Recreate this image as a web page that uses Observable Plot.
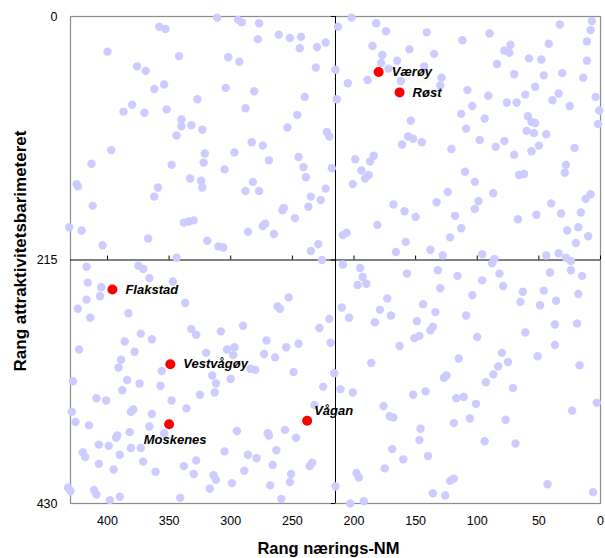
<!DOCTYPE html>
<html>
<head>
<meta charset="utf-8">
<script src="https://cdn.jsdelivr.net/npm/d3@7"></script>
<script src="https://cdn.jsdelivr.net/npm/@observablehq/plot@0.6"></script>
<style>
  html, body { margin: 0; padding: 0; background: #fff; }
</style>
</head>
<body>
<div id="chart"></div>
<script>
// Background municipalities: [rank nærings-NM, rank attraktivitetsbarometer]
const bgPoints = [
  [358,9],[353,11],[400,31],[342,35],[376,44],[369,48],[362,64],[354,60],[327,73],[380,78],[387,84],[370,85],[352,82],[340,91],[340,97],[332,96],[323,100],[344,105],[397,118],[413,130],[348,131],[321,121],[322,129],[425,148],[424,150],[333,143],[324,145],[323,151],[359,151],[362,159],[412,167],[338,182],[334,181],[330,180],[431,186],[421,189],[367,196],[404,202],[344,213],
  [311,1],[294,3],[291,5],[277,6],[261,16],[252,19],[243,18],[278,20],[244,28],[230,27],[223,23],[302,36],[293,40],[231,45],[215,47],[304,63],[281,66],[240,71],[288,81],[246,87],[254,98],[222,102],[220,106],[283,111],[274,114],[297,120],[269,127],[305,135],[245,124],[241,133],[218,134],[239,142],[282,146],[288,154],[277,154],[223,152],[235,159],[227,162],[237,168],[257,169],[258,171],[248,178],[286,190],[274,185],[272,183],[265,192],[319,198],[310,203],[306,204],[229,201],[235,207],[226,215],
  [213,9],[202,1],[182,6],[174,13],[141,14],[112,21],[185,26],[177,34],[155,29],[135,33],[165,39],[178,41],[172,46],[143,44],[205,59],[189,56],[162,57],[129,54],[130,61],[214,73],[108,65],[113,86],[109,99],[154,92],[156,106],[152,108],[161,113],[145,111],[121,117],[184,123],[187,128],[199,126],[194,136],[191,143],[188,140],[201,148],[110,137],[124,155],[133,164],[168,166],[159,172],[150,177],[118,176],[181,184],[113,187],[209,193],[206,191],[122,195],[158,199],[166,208],[138,206],[128,211],
  [90,15],[33,7],[7,4],[8,12],[11,22],[42,24],[73,25],[78,30],[74,32],[58,37],[48,38],[11,39],[84,42],[70,51],[46,52],[31,50],[14,54],[53,62],[91,70],[61,69],[76,76],[68,76],[34,68],[39,74],[25,79],[4,71],[1,83],[2,95],[104,79],[94,90],[59,88],[56,93],[53,94],[60,101],[54,103],[44,104],[98,109],[85,115],[78,110],[70,122],[56,119],[50,114],[21,116],[28,131],[29,138],[66,140],[62,139],[102,146],[87,156],[99,163],[102,170],[8,157],[12,161],[40,165],[16,173],[32,174],[52,175],[67,179],[18,186],[27,189],[10,194],[20,200],[96,210],[86,214],[44,211],[34,209],[28,213],[24,216],
  [417,221],[375,220],[371,223],[366,231],[416,235],[405,239],[406,247],[417,250],[347,234],[424,258],[414,266],[383,262],[337,253],[332,276],[328,281],[373,280],[364,285],[386,287],[378,296],[423,294],[389,303],[391,310],[356,313],[428,322],[384,321],[374,324],[357,326],[388,330],[409,337],[401,339],[348,339],[325,334],[336,346],[429,349],[426,358],[381,349],[379,347],[364,351],[415,361],[366,362],[382,367],[354,368],[393,372],[392,370],[407,378],[399,379],[381,381],[373,381],[420,385],[418,389],[390,387],[407,395],[395,400],[371,393],[361,402],[338,397],[330,404],[328,392],[432,416],[430,419],[411,418],[409,422],[398,427],[390,424],[341,425],
  [253,248],[262,256],[260,258],[220,267],[228,275],[290,273],[308,278],[271,286],[245,289],[255,292],[219,288],[303,294],[297,292],[298,299],[320,297],[273,298],[264,301],[284,311],[280,312],[249,314],[216,315],[315,317],[312,324],[300,320],[313,332],[225,327],[232,343],[295,366],[270,368],[269,370],[256,365],[247,372],[305,384],[286,387],[279,390],[263,383],[266,396],[236,397],[234,394],[289,401],[251,404],[252,411],[314,405],[312,409],[299,412],[268,414],[317,417],[259,426],[215,415],
  [209,219],[195,222],[193,230],[197,237],[190,236],[157,227],[132,224],[116,229],[130,240],[173,249],[144,254],[210,257],[204,266],[179,259],[170,264],[134,261],[109,264],[183,270],[149,269],[138,277],[136,274],[151,284],[147,282],[163,291],[186,306],[115,302],[127,319],[125,317],[211,329],[201,332],[152,334],[142,331],[117,337],[111,336],[176,344],[171,353],[168,354],[119,359],[146,364],[147,374],[169,382],[160,391],[140,388],[175,399],[198,403],[196,407],[119,408],[122,410],[136,421],[126,423],[203,430],[192,428],
  [88,218],[82,227],[96,233],[79,238],[104,246],[63,243],[65,252],[46,242],[49,255],[36,251],[24,224],[41,226],[15,229],[18,245],[37,272],[19,271],[61,279],[100,283],[37,290],[80,297],[51,300],[75,305],[83,309],[87,316],[93,323],[17,308],[71,328],[101,342],[106,355],[77,356],[23,348],[3,341],[94,375],[69,377],[43,413],[6,420]
];

// Highlighted municipalities
const hlNames = ["Værøy", "Røst", "Flakstad", "Vestvågøy", "Moskenes", "Vågan"];
const hlX = [180, 163, 396, 349, 350, 238];
const hlY = [49, 67, 241, 307, 360, 357];

const xTicks = [400, 350, 300, 250, 200, 150, 100, 50, 0];
const yTicks = [0, 215, 430];
const midValue = 215;
const xTitle = "Rang nærings-NM";
const yTitle = "Rang attraktivitetsbarimeteret";

const bg = bgPoints.map(([x, y]) => ({x, y}));
const hl = hlNames.map((name, i) => ({name, x: hlX[i], y: hlY[i]}));

const rightLabels = hl.filter(d => d.name !== "Moskenes" && d.name !== "Vågan");
const belowLabels = hl.filter(d => d.name === "Moskenes");
const aboveLabels = hl.filter(d => d.name === "Vågan");

const font = "'Liberation Sans', Arial, Helvetica, sans-serif";
const labelStyle = {fontSize: 13, fontWeight: "bold", fontStyle: "italic", fill: "#000"};

const chart = Plot.plot({
  width: 605,
  height: 558,
  marginLeft: 70,
  marginRight: 5,
  marginTop: 16,
  marginBottom: 55,
  style: {fontFamily: font, fontSize: "12.5px", color: "#000", background: "#fff"},
  x: {domain: [430, 0], axis: null},
  y: {domain: [0, 430], reverse: true, axis: null},
  marks: [
    Plot.frame({stroke: "#8c8c8c", strokeWidth: 1.2}),
    Plot.ruleX([midValue], {stroke: "#000", strokeWidth: 1}),
    Plot.ruleY([midValue], {stroke: "#000", strokeWidth: 1}),
    Plot.ruleX(xTicks, {x: d => d, y1: midValue, y2: midValue - 3.5, stroke: "#000"}),
    Plot.ruleY(yTicks, {y: d => d, x1: midValue, x2: midValue + 3.2, stroke: "#000"}),
    Plot.axisX(xTicks, {anchor: "bottom", tickSize: 0, tickPadding: 13, fontSize: 12.5, label: null}),
    Plot.axisY(yTicks, {anchor: "left", tickSize: 0, tickPadding: 13, fontSize: 12.5, label: null}),
    Plot.dot(bg, {x: "x", y: "y", r: 4.2, fill: "#ccccff", stroke: "none"}),
    Plot.dot(hl, {x: "x", y: "y", r: 5, fill: "#ff0000", stroke: "none"}),
    Plot.text(rightLabels, {x: "x", y: "y", text: "name", textAnchor: "start", dx: 13, ...labelStyle}),
    Plot.text(belowLabels, {x: "x", y: "y", text: "name", textAnchor: "middle", dx: 6, dy: 16, ...labelStyle}),
    Plot.text(aboveLabels, {x: "x", y: "y", text: "name", textAnchor: "start", dx: 7, dy: -10, ...labelStyle}),
    Plot.text([xTitle], {frameAnchor: "bottom", text: d => d, textAnchor: "middle", lineAnchor: "middle", dy: 45, dx: -7, fontSize: 16.5, fontWeight: "bold", fill: "#000"}),
    Plot.text([yTitle], {frameAnchor: "left", text: d => d, textAnchor: "middle", lineAnchor: "middle", dx: -50, dy: -9, rotate: -90, fontSize: 17, fontWeight: "bold", fill: "#000"})
  ]
});

document.getElementById("chart").appendChild(chart);
</script>
</body>
</html>
